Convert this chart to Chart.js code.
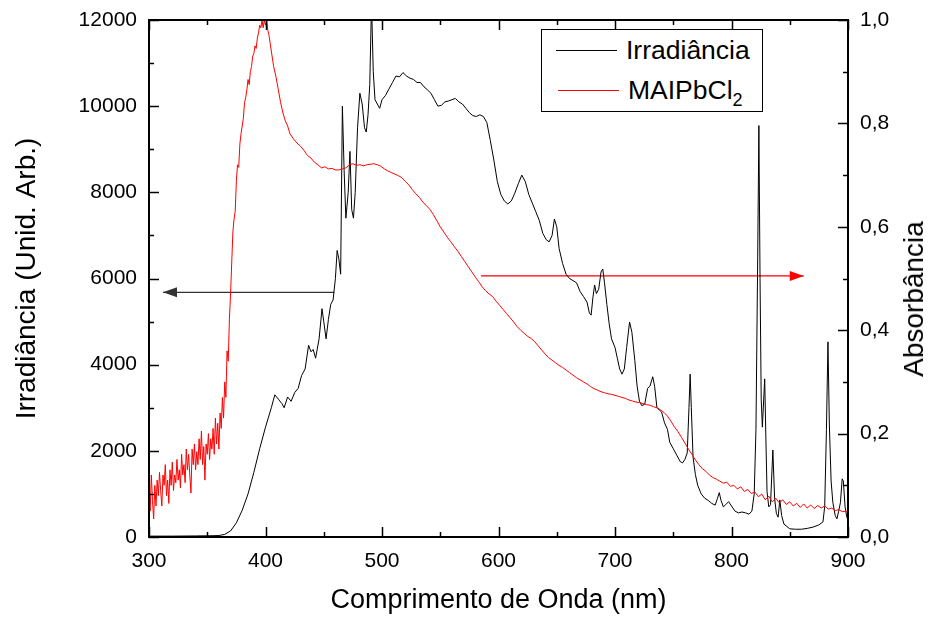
<!DOCTYPE html>
<html lang="pt">
<head>
<meta charset="utf-8">
<title>Irradiância x MAIPbCl2</title>
<script src="https://cdn.jsdelivr.net/npm/chart.js@4"></script>
<style>
    body { margin: 0; background: #fff; }
    #wrap { position: relative; width: 928px; height: 617px; }
    #legend {
        position: absolute; left: 541px; top: 29px; width: 220px; height: 81px;
        border: 1px solid #000; background: #fff;
        font-family: Arial, "Liberation Sans", sans-serif; font-size: 26.5px; color: #000;
    }
    #legend .row { position: absolute; left: 0; height: 30px; line-height: 30px; white-space: nowrap; }
    #legend .swatch { position: absolute; left: 14px; width: 61px; height: 0; top: 15px; }
    #legend .label { position: absolute; left: 84px; top: 0; }
    #legend sub { font-size: 18px; vertical-align: -7px; line-height: 0; }
    #rightTitle {
        position: absolute; left: 914px; top: 299px;
        transform: translate(-50%, -50%) rotate(-90deg);
        font-family: Arial, "Liberation Sans", sans-serif; font-size: 28px; color: #000;
        white-space: nowrap;
    }
</style>
</head>
<body>
<div id="wrap">
    <canvas id="chart" width="928" height="617"></canvas>
    <div id="legend">
        <div class="row" style="top: 5px;">
            <span class="swatch" style="border-top: 1px solid #000;"></span>
            <span class="label">Irradiância</span>
        </div>
        <div class="row" style="top: 45px;">
            <span class="swatch" style="border-top: 1px solid #ff0000; left: 16px;"></span>
            <span class="label" style="left: 86px;">MAIPbCl<sub>2</sub></span>
        </div>
    </div>
    <div id="rightTitle">Absorbância</div>
</div>

<script>
// ---- Irradiância (eixo esquerdo, unid. arb.) ----
const irrWl = [
    300, 320, 340, 355, 360, 365, 370, 375, 380, 385,
    390, 395, 400, 405, 408, 411, 414, 416, 419, 422,
    425, 428, 431, 434, 437, 439, 441, 443, 446, 448.5,
    450, 452, 454, 456, 458, 460, 461.5, 463, 464.5, 466,
    467.5, 469, 471, 472.5, 474, 475.5, 477, 479, 481, 483,
    485, 486.5, 488, 489.5, 491, 492.5, 494, 496, 498, 500,
    503, 506, 509, 512, 515, 518, 521, 524, 527, 530,
    533, 536, 539, 542, 545, 548, 551, 554, 557, 560,
    563, 566, 569, 572, 575, 578, 581, 584, 587, 590,
    593, 596, 599, 602, 605, 608, 611, 614, 617, 620,
    623, 626, 629, 632, 635, 638, 641, 643.5, 646, 648,
    650, 652, 655, 658, 661, 664, 667, 670, 673, 676,
    678, 679.5, 681, 682.5, 684, 686, 688, 689.5, 691, 693,
    695, 697, 700, 702, 704, 706, 708, 710, 712.5, 714.5,
    717, 719, 721, 723, 725.5, 728, 730, 732.4, 734, 736,
    738, 740, 742.5, 745, 747, 750, 753, 756, 758, 760,
    762, 763.5, 764.5, 765.5, 767, 769, 771, 774, 777, 780,
    783, 786, 788, 789.5, 791, 793, 795, 797.5, 800, 803,
    806, 809, 812, 815, 817.5, 819.5, 821, 822.5, 823.5, 824.5,
    825.5, 826.5, 828.5, 829.5, 830.5, 832, 833.5, 835.5, 837, 838.5,
    840, 841.5, 843, 845, 850, 855, 860, 865, 870, 875,
    878.5, 880, 881.5, 882.8, 884, 885.5, 887, 889, 890.5, 892,
    893.5, 895, 896, 897.5, 899, 900
];
const irrVal = [
    20, 20, 25, 30, 35, 60, 140, 330, 620, 1000,
    1500, 2050, 2550, 3000, 3300, 3200, 3100, 3000, 3250, 3150,
    3350, 3450, 3750, 3900, 4450, 4300, 4350, 4150, 4600, 5300,
    5000, 4600, 5050, 5400, 5500, 6000, 6650, 6450, 6100, 10000,
    8500, 7400, 8000, 8950, 7600, 7400, 8000, 9500, 10300, 10050,
    9500, 9400, 9800, 10500, 12400, 10800, 10150, 10050, 9950, 10150,
    10250, 10400, 10550, 10700, 10680, 10780, 10700, 10650, 10620, 10550,
    10550, 10450, 10380, 10300, 10150, 10000, 10020, 10100, 10120, 10150,
    10180, 10100, 10050, 9950, 9850, 9780, 9760, 9800, 9760, 9620,
    9200, 8750, 8250, 7950, 7800, 7730, 7800, 7980, 8200, 8400,
    8250, 7950, 7750, 7550, 7350, 7050, 6900, 6850, 7000, 7380,
    7200, 6700, 6350, 6100, 6000, 5950, 5900, 5700, 5580, 5450,
    5200, 5150, 5550, 5850, 5650, 5750, 6150, 6220, 5900, 5400,
    4950, 4600, 4400, 4150, 3900, 3780, 3900, 4400, 4990, 4750,
    4100, 3500, 3150, 3050, 3080, 3450, 3500, 3720, 3500, 3000,
    2950, 2900, 2650, 2500, 2200, 2050, 1900, 1750, 1720, 1800,
    1950, 3000, 3780, 3000, 1850, 1450, 1200, 1000, 900, 850,
    780, 740, 900, 1030, 850, 700, 750, 820, 720, 600,
    560, 580, 560, 530, 600, 1000, 2500, 6500, 9550, 6000,
    3200, 2550, 3670, 2300, 1050, 700, 750, 2020, 900, 550,
    460, 860, 500, 300, 190, 180, 180, 200, 230, 280,
    350, 700, 2500, 4530, 2600, 1300, 800, 500, 420, 600,
    800, 1350, 1300, 700, 460, 400
];

// ---- Absorbância MAIPbCl2 (eixo direito) ----
const absWl = [
    300, 301, 302, 303, 304, 305, 306, 307, 308, 309,
    310, 311, 312, 313, 314, 315, 316, 317, 318, 319,
    320, 321, 322, 323, 324, 325, 326, 327, 328, 329,
    330, 331, 332, 333, 334, 335, 336, 337, 338, 339,
    340, 341, 342, 343, 344, 345, 346, 347, 348, 349,
    350, 351, 352, 353, 354, 355, 356, 357, 358, 359,
    360, 361, 362, 363, 364, 365, 366, 367, 368, 369,
    370, 371, 372, 373, 374, 375, 376, 377, 378, 379,
    380, 381, 382, 383, 384, 385, 386, 387, 388, 389,
    390, 391, 392, 393, 394, 395, 396, 397, 398, 399,
    400, 401, 402, 403, 404, 405,
    407, 409, 411, 413, 415, 417, 419, 421, 424, 427,
    430, 433, 436, 439, 442, 445, 448, 451, 454, 457,
    460, 463, 466, 469, 472, 475, 478, 481, 484, 487,
    490, 493, 496, 499, 502, 505, 508, 511, 514, 517,
    520, 523, 526, 529, 532, 535, 538, 541, 544, 547,
    550, 553, 556, 559, 562, 565, 568, 571, 574, 577,
    580, 583, 586, 589, 592, 595, 598, 601, 604, 607,
    610, 613, 616, 619, 622, 625, 628, 631, 634, 637,
    640, 643, 646, 649, 652, 655, 658, 661, 664, 667,
    670, 673, 676, 679, 682, 685, 688, 691, 694, 697,
    700, 703, 706, 709, 712, 715, 718, 721, 724, 727,
    730, 733, 736, 739, 742, 745, 748, 751, 754, 757,
    760, 763, 766, 769, 772, 775, 778, 781, 784, 787,
    790, 793, 796, 799, 802, 805, 808, 811, 814, 817,
    820, 823, 826, 829, 832, 835, 838, 841, 844, 847,
    850, 853, 856, 859, 862, 865, 868, 871, 874, 877,
    880, 883, 886, 889, 892, 895, 898, 900
];
const absVal = [
    0.09, 0.05, 0.12, 0.07, 0.035, 0.10, 0.06, 0.11, 0.08, 0.125,
    0.09, 0.06, 0.12, 0.10, 0.14, 0.08, 0.11, 0.065, 0.13, 0.10,
    0.145, 0.09, 0.12, 0.105, 0.15, 0.11, 0.13, 0.095, 0.16, 0.12,
    0.14, 0.105, 0.17, 0.13, 0.16, 0.12, 0.085, 0.17, 0.14, 0.18,
    0.13, 0.165, 0.14, 0.19, 0.15, 0.205, 0.14, 0.175, 0.11, 0.18,
    0.16, 0.20, 0.15, 0.19, 0.17, 0.21, 0.16, 0.23, 0.18, 0.22,
    0.17, 0.24, 0.21, 0.27, 0.23, 0.30, 0.27, 0.36, 0.34, 0.42,
    0.47, 0.53, 0.59, 0.615, 0.63, 0.69, 0.72, 0.715, 0.76, 0.78,
    0.795, 0.81, 0.84, 0.85, 0.865, 0.885, 0.875, 0.9, 0.91, 0.93,
    0.935, 0.95, 0.945, 0.965, 0.975, 0.99, 0.985, 1.0, 0.985, 1.0,
    0.99, 1.0, 0.98, 0.97, 0.955, 0.94,
    0.91, 0.89, 0.865, 0.84, 0.82, 0.805, 0.795, 0.78, 0.77, 0.762,
    0.756, 0.748, 0.738, 0.733, 0.725, 0.72, 0.714, 0.716, 0.712, 0.713,
    0.71, 0.71, 0.712, 0.714, 0.72, 0.722, 0.719, 0.72, 0.718, 0.72,
    0.721, 0.722, 0.72, 0.717, 0.712, 0.708, 0.705, 0.702, 0.699, 0.695,
    0.688, 0.681, 0.672, 0.664, 0.657, 0.648, 0.641, 0.634, 0.624, 0.612,
    0.6, 0.59, 0.58, 0.571, 0.562, 0.553, 0.543, 0.533, 0.523, 0.513,
    0.503, 0.494, 0.484, 0.476, 0.47, 0.465, 0.456, 0.448, 0.44, 0.432,
    0.424, 0.416, 0.407, 0.4, 0.394, 0.388, 0.384, 0.378, 0.37, 0.362,
    0.354, 0.347, 0.342, 0.337, 0.332, 0.328, 0.323, 0.318, 0.313, 0.308,
    0.304, 0.3, 0.296, 0.291, 0.287, 0.284, 0.281, 0.279, 0.277, 0.276,
    0.274, 0.272, 0.27, 0.268, 0.265, 0.263, 0.261, 0.26, 0.258, 0.256,
    0.255, 0.252, 0.25, 0.246, 0.241, 0.234, 0.224, 0.213, 0.204, 0.193,
    0.182, 0.17, 0.16, 0.149, 0.14, 0.132, 0.127, 0.12, 0.115, 0.112,
    0.108, 0.104, 0.106, 0.098, 0.1, 0.093, 0.097, 0.088, 0.092, 0.084,
    0.087, 0.078, 0.083, 0.072, 0.079, 0.068, 0.075, 0.066, 0.072, 0.063,
    0.068, 0.06, 0.065, 0.057, 0.064, 0.056, 0.062, 0.055, 0.061, 0.056,
    0.06, 0.054, 0.056, 0.051, 0.053, 0.049, 0.05, 0.047
];

// setas indicando o eixo de cada curva (primeiro ponto = ponta)
const arrowIrrWl = [312, 459];
const arrowIrrVal = [5680, 5680];
const arrowAbsWl = [862, 585];
const arrowAbsVal = [0.505, 0.505];

const FONT = 'Arial, "Liberation Sans", sans-serif';

const toPoints = (xs, ys) => xs.map((x, i) => ({ x, y: ys[i] }));

// molduras e ticks para dentro, como no Origin
const frameTicks = {
    id: 'frameTicks',
    afterDatasetsDraw(chart) {
        const { ctx, chartArea: a, scales } = chart;
        ctx.save();
        ctx.strokeStyle = '#000';
        ctx.lineWidth = 2;
        ctx.strokeRect(a.left, a.top, a.right - a.left, a.bottom - a.top);
        ctx.lineWidth = 1.5;
        ctx.beginPath();
        scales.x.ticks.forEach(t => {
            const px = Math.round(scales.x.getPixelForValue(t.value)) + 0.5;
            const len = t.value % 100 === 0 ? 10 : 5;
            ctx.moveTo(px, a.bottom); ctx.lineTo(px, a.bottom - len);
            ctx.moveTo(px, a.top); ctx.lineTo(px, a.top + len);
        });
        scales.y.ticks.forEach(t => {
            const py = Math.round(scales.y.getPixelForValue(t.value)) + 0.5;
            const len = t.value % 2000 === 0 ? 10 : 5;
            ctx.moveTo(a.left, py); ctx.lineTo(a.left + len, py);
        });
        scales.y1.ticks.forEach(t => {
            const py = Math.round(scales.y1.getPixelForValue(t.value)) + 0.5;
            const len = Math.round(t.value * 10) % 2 === 0 ? 10 : 5;
            ctx.moveTo(a.right, py); ctx.lineTo(a.right - len, py);
        });
        ctx.stroke();

        // pontas das setas
        chart.data.datasets.forEach((ds, i) => {
            if (!ds.arrowHead) return;
            const pts = chart.getDatasetMeta(i).data;
            const tip = pts[0], tail = pts[1];
            const ang = Math.atan2(tip.y - tail.y, tip.x - tail.x);
            const L = 14, W = 5;
            ctx.fillStyle = ds.borderColor;
            ctx.beginPath();
            ctx.moveTo(tip.x, tip.y);
            ctx.lineTo(tip.x - L * Math.cos(ang) - W * Math.sin(ang), tip.y - L * Math.sin(ang) + W * Math.cos(ang));
            ctx.lineTo(tip.x - L * Math.cos(ang) + W * Math.sin(ang), tip.y - L * Math.sin(ang) - W * Math.cos(ang));
            ctx.closePath();
            ctx.fill();
        });
        ctx.restore();
    }
};

// tamanho fixo dos eixos verticais, sem folga extra no topo
const fixVertical = w => s => {
    s.width = w;
    s.paddingTop = 0;
    s.paddingBottom = 0;
};

new Chart(document.getElementById('chart'), {
    type: 'line',
    data: {
        datasets: [
            {
                label: 'MAIPbCl2',
                data: toPoints(absWl, absVal),
                yAxisID: 'y1',
                borderColor: '#ff0000',
                borderWidth: 1,
                pointRadius: 0
            },
            {
                label: 'Irradiância',
                data: toPoints(irrWl, irrVal),
                yAxisID: 'y',
                borderColor: '#000000',
                borderWidth: 1,
                pointRadius: 0
            },
            {
                label: 'seta irr',
                data: toPoints(arrowIrrWl, arrowIrrVal),
                yAxisID: 'y',
                borderColor: '#333333',
                borderWidth: 1.3,
                pointRadius: 0,
                arrowHead: true
            },
            {
                label: 'seta abs',
                data: toPoints(arrowAbsWl, arrowAbsVal),
                yAxisID: 'y1',
                borderColor: '#ff0000',
                borderWidth: 1.3,
                pointRadius: 0,
                arrowHead: true
            }
        ]
    },
    options: {
        responsive: false,
        animation: false,
        layout: { padding: { top: 20, left: 0, right: 0, bottom: 0 } },
        plugins: {
            legend: { display: false },
            tooltip: { enabled: false }
        },
        scales: {
            x: {
                type: 'linear',
                min: 300,
                max: 900,
                grid: { display: false, drawTicks: false },
                border: { display: false },
                ticks: {
                    stepSize: 50,
                    padding: 12,
                    maxRotation: 0,
                    autoSkip: false,
                    color: '#000',
                    font: { family: FONT, size: 21 },
                    callback: v => (v % 100 === 0 ? String(v) : '')
                },
                title: {
                    display: true,
                    text: 'Comprimento de Onda (nm)',
                    color: '#000',
                    font: { family: FONT, size: 27 },
                    padding: { top: 0, bottom: 0 }
                },
                afterFit: s => { s.height = 80; }
            },
            y: {
                position: 'left',
                min: 0,
                max: 12000,
                grid: { display: false, drawTicks: false },
                border: { display: false },
                ticks: {
                    stepSize: 1000,
                    padding: 12,
                    autoSkip: false,
                    color: '#000',
                    font: { family: FONT, size: 21 },
                    callback: v => (v % 2000 === 0 ? String(v) : '')
                },
                title: {
                    display: true,
                    text: 'Irradiância (Unid. Arb.)',
                    color: '#000',
                    font: { family: FONT, size: 28 },
                    padding: { top: 10, bottom: 0 }
                },
                afterFit: fixVertical(149)
            },
            y1: {
                position: 'right',
                min: 0,
                max: 1,
                grid: { display: false, drawTicks: false },
                border: { display: false },
                ticks: {
                    stepSize: 0.1,
                    padding: 12,
                    autoSkip: false,
                    color: '#000',
                    font: { family: FONT, size: 21 },
                    callback: v => (Math.round(v * 10) % 2 === 0 ? v.toFixed(1).replace('.', ',') : '')
                },
                // título desenhado em HTML (#rightTitle), girado como no original
                title: { display: false },
                afterFit: fixVertical(80)
            }
        }
    },
    plugins: [frameTicks]
});
</script>
</body>
</html>
